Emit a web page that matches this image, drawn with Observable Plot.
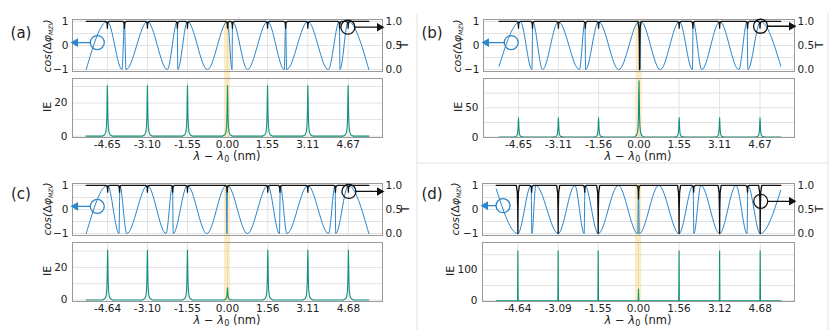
<!DOCTYPE html>
<html><head><meta charset="utf-8">
<script src="https://cdn.jsdelivr.net/npm/d3@7"></script>
<script src="https://cdn.jsdelivr.net/npm/@observablehq/plot@0.6"></script>
<style>
body{margin:0;background:#fff;}
#fig{position:relative;width:830px;height:330px;overflow:hidden;font-family:"DejaVu Sans",sans-serif;}
#fig > svg{position:absolute;}
</style></head><body><div id="fig"></div>
<script>
// ---------- shared ----------
const BLUE = "#2b86cc", GREEN = "#14917a", GRID = "#e2e2e2", FRAME = "#9a9a9a", YELLOW = "#f8d57a";
const X_DOMAIN = [-6, 6];
const COS_DOMAIN = [-1.08, 1.08];
const COS_TICKS = [-1, 0, 1];
const COS_LABELS = ["\u22121", "0", "1"];
const T_LABELS = ["0.0", "0.5", "1.0"];
const COS_GRID = [-1, -0.5, 0, 0.5, 1];
const BAND = [-0.12, 0.12];
// IE peak shape (offset nm, fraction of height)
const PEAK_DX = [-0.2, -0.1, -0.06, -0.035, -0.02, -0.01, 0, 0.01, 0.02, 0.035, 0.06, 0.1, 0.2];
const PEAK_FR = [0, 0.03, 0.08, 0.2, 0.4, 0.75, 1, 0.75, 0.4, 0.2, 0.08, 0.03, 0];
const PEAK_DX_NARROW = [-0.012, 0, 0.012];
const PEAK_FR_NARROW = [0, 1, 0];
// T notch shape
const NOTCH_DX = [-0.06, -0.02, -0.006, 0, 0.006, 0.02, 0.06];
const NOTCH_FR = [0, 0.15, 0.5, 1, 0.5, 0.15, 0];

// ---------- panel (a) ----------
const a_res = [-4.65, -3.10, -1.55, 0, 1.55, 3.11, 4.67];
const a_tickLabels = ["-4.65", "-3.10", "-1.55", "0.00", "1.55", "3.11", "4.67"];
const a_ieHeights = [30.6, 30.6, 30.6, 30.6, 30.6, 30.6, 30.6];
const a_ieDomain = [-0.8, 34.8];
const a_ieTicks = [0, 20];
const a_ieGrid = [0, 10, 20, 30];
const a_cos = [[-5.47,-1],[-4.65,1],[-4.08,-1],[-3.99,1],[-3.93,-1],[-3.10,1],[-2.33,-1],[-1.945,1],[-1.925,-1],[-1.55,1],[-0.78,-1],[0,1],[0.175,-1],[0.195,1],[0.77,-1],[1.55,1],[2.20,-1],[2.25,1],[2.29,-1],[3.11,1],[3.90,-1],[4.33,1],[4.355,-1],[4.67,1],[5.47,-1]];
const a_notchX = [-4.65, -3.99, -3.10, -1.94, -1.55, 0, 0.19, 1.55, 2.25, 3.11, 4.34, 4.67];
const a_notchT = [0.86, 0.86, 0.86, 0.86, 0.86, 0.86, 0.86, 0.86, 0.86, 0.86, 0.86, 0.86];
const a_blueCircle = [-5.04, 0.12];
const a_blackCircle = [4.66, 0.88];

// ---------- panel (b) ----------
const b_res = [-4.65, -3.11, -1.56, 0, 1.55, 3.11, 4.67];
const b_tickLabels = ["-4.65", "-3.11", "-1.56", "0.00", "1.55", "3.11", "4.67"];
const b_ieHeights = [33, 33, 33, 96, 33, 33, 33];
const b_ieDomain = [-0.6, 100];
const b_ieTicks = [0, 50];
const b_ieGrid = [0, 25, 50, 75];
const b_cos = [[-5.40,-0.86],[-4.58,1],[-4.13,-1],[-4.10,1],[-3.72,-1],[-3.11,1],[-2.30,-1],[-2.085,1],[-2.06,-1],[-1.56,1],[-0.78,-1],[0.01,1],[0.04,-1],[0.07,1],[0.82,-1],[1.56,1],[2.06,-1],[2.09,1],[2.42,-1],[3.12,1],[3.85,-1],[4.17,1],[4.20,-1],[4.69,1],[5.47,-0.86]];
const b_notchX = [-4.65, -4.11, -3.11, -2.07, -1.56, 0.02, 1.55, 2.08, 3.11, 4.19, 4.67];
const b_notchT = [0.86, 0.86, 0.86, 0.86, 0.86, 0.0, 0.86, 0.86, 0.86, 0.86, 0.86];
const b_blueCircle = [-4.93, 0.12];
const b_blackCircle = [4.69, 0.90];

// ---------- panel (c) ----------
const c_res = [-4.64, -3.10, -1.55, 0, 1.56, 3.11, 4.68];
const c_tickLabels = ["-4.64", "-3.10", "-1.55", "0.00", "1.56", "3.11", "4.68"];
const c_ieHeights = [30.7, 30.7, 30.7, 7.5, 30.7, 30.7, 30.7];
const c_ieDomain = [-0.9, 35.3];
const c_ieTicks = [0, 20];
const c_ieGrid = [0, 10, 20, 30];
const c_cos = [[-5.47,-1],[-4.64,1],[-4.20,-1],[-4.165,1],[-3.90,-1],[-3.10,1],[-2.38,-1],[-2.13,1],[-2.10,-1],[-1.55,1],[-0.80,-1],[-0.05,1],[-0.025,-1],[0.0,1],[0.77,-1],[1.56,1],[2.01,-1],[2.045,1],[2.30,-1],[3.11,1],[3.91,-1],[4.165,1],[4.19,-1],[4.68,1],[5.47,-1]];
const c_notchX = [-4.64, -4.18, -3.10, -2.12, -1.55, -0.01, 1.56, 2.03, 3.11, 4.18, 4.68];
const c_notchT = [0.86, 0.86, 0.86, 0.86, 0.86, 0.86, 0.86, 0.86, 0.86, 0.86, 0.86];
const c_blueCircle = [-5.04, 0.13];
const c_blackCircle = [4.70, 0.875];

// ---------- panel (d) ----------
const d_res = [-4.64, -3.09, -1.55, 0, 1.56, 3.12, 4.68];
const d_tickLabels = ["-4.64", "-3.09", "-1.55", "0.00", "1.56", "3.12", "4.68"];
const d_ieHeights = [163, 163, 163, 38, 163, 163, 163];
const d_ieDomain = [-2.3, 190];
const d_ieTicks = [0, 100];
const d_ieGrid = [0, 50, 100, 150];
const d_cos = [[-5.47,0.85],[-4.64,-1],[-4.13,1],[-4.10,-1],[-3.95,1],[-3.09,-1],[-2.45,1],[-2.09,-1],[-2.06,1],[-1.55,-1],[-0.78,1],[-0.03,-1],[0.0,1],[0.03,-1],[0.78,1],[1.56,-1],[2.10,1],[2.13,-1],[2.40,1],[3.12,-1],[3.75,1],[4.175,-1],[4.205,1],[4.68,-1],[5.47,0.8]];
const d_notchX = [-4.64, -4.11, -3.09, -2.07, -1.55, 0, 1.56, 2.12, 3.12, 4.19, 4.68];
const d_notchT = [0.0, 0.86, 0.0, 0.86, 0.0, 0.72, 0.0, 0.86, 0.0, 0.86, 0.0];
const d_blueCircle = [-5.21, 0.16];
const d_blackCircle = [4.70, 0.67];

// ---------- builders ----------
function tSeries(xs, xe, nx, nt) {
  const pts = [[xs, 1]];
  nx.forEach((x0, i) => NOTCH_DX.forEach((dx, j) => pts.push([x0 + dx, 1 - NOTCH_FR[j] * (1 - nt[i])])));
  pts.push([xe, 1]);
  return pts.sort((p, q) => p[0] - q[0]);
}
function ieSeries(xs, xe, res, h, dxs, frs) {
  const pts = [[xs, 0]];
  res.forEach((x0, i) => dxs.forEach((dx, j) => pts.push([x0 + dx, frs[j] * h[i]])));
  pts.push([xe, 0]);
  return pts.sort((p, q) => p[0] - q[0]);
}

const panels = [
  {L:"a", fx:[72,382], ty:[19,71], by:[78,137], res:a_res, labels:a_tickLabels, cos:a_cos,
   T:tSeries(-5.47,5.47,a_notchX,a_notchT), ie:ieSeries(-5.47,5.47,a_res,a_ieHeights,PEAK_DX,PEAK_FR),
   ieDomain:a_ieDomain, ieTicks:a_ieTicks, ieGrid:a_ieGrid, bc:a_blueCircle, kc:a_blackCircle,
   letter:[21,33], cosLab:[47,46], ieLab:[47,107], tLab:[404,45], xLab:[227,156]},
  {L:"b", fx:[483,794], ty:[19,71], by:[78,137], res:b_res, labels:b_tickLabels, cos:b_cos,
   T:tSeries(-5.40,5.47,b_notchX,b_notchT), ie:ieSeries(-5.40,5.47,b_res,b_ieHeights,PEAK_DX,PEAK_FR),
   ieDomain:b_ieDomain, ieTicks:b_ieTicks, ieGrid:b_ieGrid, bc:b_blueCircle, kc:b_blackCircle,
   letter:[432,33], cosLab:[457,46], ieLab:[458,107], tLab:[819,45], xLab:[638,156]},
  {L:"c", fx:[72,382], ty:[183,235], by:[242,301], res:c_res, labels:c_tickLabels, cos:c_cos,
   T:tSeries(-5.47,5.47,c_notchX,c_notchT), ie:ieSeries(-5.47,5.47,c_res,c_ieHeights,PEAK_DX,PEAK_FR),
   ieDomain:c_ieDomain, ieTicks:c_ieTicks, ieGrid:c_ieGrid, bc:c_blueCircle, kc:c_blackCircle,
   letter:[21,194], cosLab:[47,209], ieLab:[47,271], tLab:[405,209], xLab:[227,320]},
  {L:"d", fx:[482,794], ty:[183,235], by:[242,301], res:d_res, labels:d_tickLabels, cos:d_cos,
   T:tSeries(-5.47,5.47,d_notchX,d_notchT), ie:ieSeries(-5.47,5.47,d_res,d_ieHeights,PEAK_DX_NARROW,PEAK_FR_NARROW),
   ieDomain:d_ieDomain, ieTicks:d_ieTicks, ieGrid:d_ieGrid, bc:d_blueCircle, kc:d_blackCircle,
   letter:[432,194], cosLab:[455,209], ieLab:[450,271], tLab:[819,209], xLab:[638,320]}
];

const fig = document.getElementById("fig");
const STYLE = {fontFamily:"DejaVu Sans, sans-serif", fontSize:"10.5px", background:"transparent", overflow:"visible", color:"#222", maxWidth:"none"};
const ML = 34, MR = 34;

function place(el, left, top) { el.style.left = left + "px"; el.style.top = top + "px"; fig.appendChild(el); }

panels.forEach(p => {
  const W = p.fx[1] - p.fx[0];
  // ---- bottom (IE) ----
  const hb = p.by[1] - p.by[0], mTb = 2, mBb = 20;
  const bottom = Plot.plot({
    width: W + ML + MR, height: hb + mTb + mBb, marginLeft: ML, marginRight: MR, marginTop: mTb, marginBottom: mBb,
    style: STYLE,
    x: {domain: X_DOMAIN, axis: null}, y: {domain: p.ieDomain, axis: null},
    marks: [
      Plot.gridX(p.res, {stroke: GRID, strokeOpacity: 1}),
      Plot.gridY(p.ieGrid, {stroke: GRID, strokeOpacity: 1}),
      Plot.rect([BAND], {x1: d => d[0], x2: d => d[1], fill: YELLOW, fillOpacity: 0.45}),
      Plot.line(p.ie, {x: d => d[0], y: d => d[1], stroke: GREEN, strokeWidth: 1.1}),
      Plot.frame({stroke: FRAME}),
      Plot.axisX({ticks: p.res, tickSize: 0, tickPadding: 3, label: null,
        tickFormat: d => p.labels[p.res.indexOf(d)]}),
      Plot.axisY({ticks: p.ieTicks, tickSize: 0, tickPadding: 5, label: null})
    ]
  });
  place(bottom, p.fx[0] - ML, p.by[0] - mTb);

  // ---- top (cos + T) ----
  const ht = p.ty[1] - p.ty[0], gap = p.by[0] - p.ty[1], mTt = 3, mBt = gap + 2;
  const kcY = 2 * p.kc[1] - 1;
  const top = Plot.plot({
    width: W + ML + MR, height: ht + mTt + mBt, marginLeft: ML, marginRight: MR, marginTop: mTt, marginBottom: mBt,
    style: STYLE,
    x: {domain: X_DOMAIN, axis: null}, y: {domain: COS_DOMAIN, axis: null},
    marks: [
      Plot.gridX(p.res, {stroke: GRID, strokeOpacity: 1}),
      Plot.gridY(COS_GRID, {stroke: GRID, strokeOpacity: 1}),
      Plot.rect([BAND], {x1: d => d[0], x2: d => d[1], fill: YELLOW, fillOpacity: 0.45, insetBottom: -gap}),
      Plot.line(p.cos, {x: d => d[0], y: d => d[1], curve: "monotone-x", stroke: BLUE, strokeWidth: 1.0}),
      Plot.line(p.T, {x: d => d[0], y: d => 2 * d[1] - 1, stroke: "#111", strokeWidth: 1.3}),
      Plot.frame({stroke: FRAME}),
      // blue annotation -> left axis
      Plot.dot([p.bc], {x: d => d[0], y: d => d[1], r: 7, stroke: BLUE, fill: "none", strokeWidth: 1.3}),
      Plot.arrow([p.bc], {x1: d => d[0], y1: d => d[1], x2: X_DOMAIN[0], y2: d => d[1], stroke: BLUE, strokeWidth: 1.3, headLength: 0, insetStart: 7, insetEnd: 5}),
      Plot.dot([p.bc], {x: X_DOMAIN[0], y: d => d[1], symbol: "triangle", rotate: -90, r: 3.2, fill: BLUE, dx: 3}),
      // black annotation -> right axis
      Plot.dot([p.kc], {x: d => d[0], y: kcY, r: 7, stroke: "#111", fill: "none", strokeWidth: 1.3}),
      Plot.arrow([p.kc], {x1: d => d[0], y1: kcY, x2: X_DOMAIN[1], y2: kcY, stroke: "#111", strokeWidth: 1.3, headLength: 0, insetStart: 7, insetEnd: 5}),
      Plot.dot([p.kc], {x: X_DOMAIN[1], y: kcY, symbol: "triangle", rotate: 90, r: 3.2, fill: "#111", dx: -3}),
      Plot.axisY({anchor: "left", ticks: COS_TICKS, tickSize: 0, tickPadding: 4, label: null,
        tickFormat: d => COS_LABELS[COS_TICKS.indexOf(d)]}),
      Plot.axisY({anchor: "right", ticks: COS_TICKS, tickSize: 0, tickPadding: 3, label: null,
        tickFormat: d => T_LABELS[COS_TICKS.indexOf(d)]})
    ]
  });
  place(top, p.fx[0] - ML, p.ty[0] - mTt);
});

// ---------- overlay text and separators ----------
const ov = d3.create("svg").attr("width", 830).attr("height", 330)
  .style("left", "0px").style("top", "0px").style("pointer-events", "none")
  .attr("font-family", "DejaVu Sans, sans-serif").attr("fill", "#222");
ov.append("line").attr("x1", 417).attr("x2", 417).attr("y1", 13).attr("y2", 330).attr("stroke", "#e2e2e2");
ov.append("line").attr("x1", 828).attr("x2", 828).attr("y1", 13).attr("y2", 330).attr("stroke", "#e2e2e2");
ov.append("line").attr("x1", 417).attr("x2", 828).attr("y1", 163).attr("y2", 163).attr("stroke", "#e2e2e2");

panels.forEach(p => {
  ov.append("text").attr("x", p.letter[0]).attr("y", p.letter[1]).attr("font-size", 15)
    .attr("text-anchor", "middle").attr("dominant-baseline", "central").text("(" + p.L + ")");
  // cos label
  const c = ov.append("text").attr("transform", `translate(${p.cosLab[0]},${p.cosLab[1]}) rotate(-90)`)
    .attr("font-size", 11).attr("text-anchor", "middle").attr("dominant-baseline", "central");
  c.append("tspan").attr("font-style", "italic").text("cos(");
  c.append("tspan").text("\u0394");
  c.append("tspan").attr("font-style", "italic").text("\u03c6");
  c.append("tspan").attr("font-size", 6).attr("font-style", "italic").attr("dy", 3).text("MZI");
  c.append("tspan").attr("dy", -3).attr("font-style", "italic").text(")");
  // IE label
  ov.append("text").attr("transform", `translate(${p.ieLab[0]},${p.ieLab[1]}) rotate(-90)`)
    .attr("font-size", 11).attr("text-anchor", "middle").attr("dominant-baseline", "central").text("IE");
  // T label
  ov.append("text").attr("transform", `translate(${p.tLab[0]},${p.tLab[1]}) rotate(-90)`)
    .attr("font-size", 11).attr("text-anchor", "middle").attr("dominant-baseline", "central").text("T");
  // x label
  const xl = ov.append("text").attr("x", p.xLab[0]).attr("y", p.xLab[1]).attr("font-size", 11.5)
    .attr("text-anchor", "middle").attr("dominant-baseline", "central");
  xl.append("tspan").attr("font-style", "italic").text("\u03bb");
  xl.append("tspan").text(" \u2212 ");
  xl.append("tspan").attr("font-style", "italic").text("\u03bb");
  xl.append("tspan").attr("font-size", 8).attr("dy", 3).text("0");
  xl.append("tspan").attr("dy", -3).text(" (nm)");
});
fig.appendChild(ov.node());
</script></body></html>
